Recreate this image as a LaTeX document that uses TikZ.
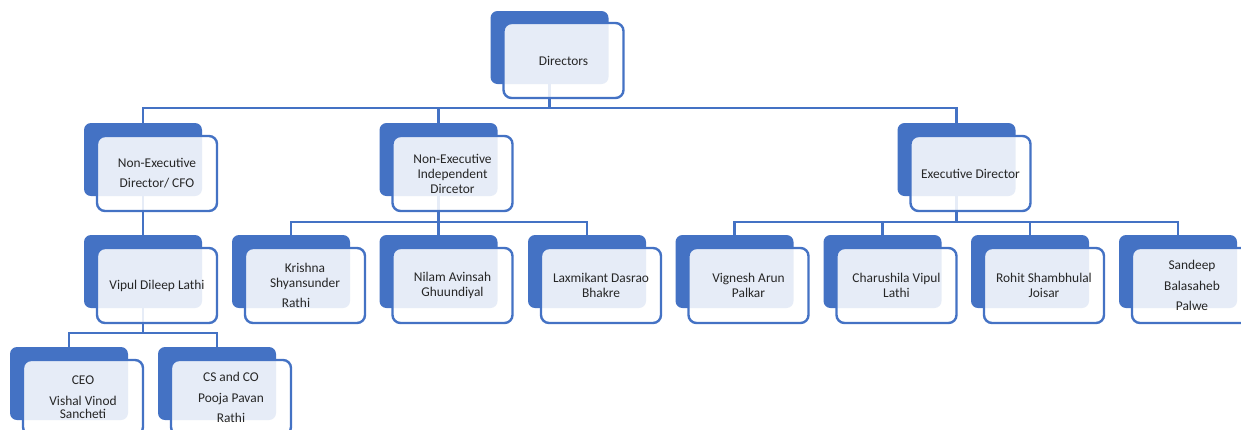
\documentclass[tikz,border=0pt]{standalone}
\usepackage{fontspec}
\setmainfont{Carlito}
\usepackage{tikz}

\definecolor{orgblue}{HTML}{4472C4}
\definecolor{orgtext}{HTML}{262626}

\tikzset{
  backbox/.style={fill=orgblue, rounded corners=7pt, minimum width=118pt,
    minimum height=73pt, inner sep=0pt},
  frontbox/.style={draw=orgblue, line width=2.4pt, fill=white, fill opacity=0.87,
    text opacity=1, rounded corners=8pt, minimum width=120pt, minimum height=75pt,
    inner sep=0pt, anchor=north west, align=center, text=orgtext,
    font=\fontsize{13.4}{15}\selectfont},
  link/.style={draw=orgblue, line width=2.5pt},
}

\begin{document}
\begin{tikzpicture}[x=1pt,y=-1pt]
\useasboundingbox (0,0) rectangle (1241,429);

% dark boxes behind
\node[backbox] (dir) at (549.5,47.5) {};

\node[backbox] (cfo) at (143,159.5) {};
\node[backbox] (ind) at (438.5,159.5) {};
\node[backbox] (exe) at (956.5,159.5) {};

\node[backbox] (vip) at (143,271.5) {};
\node[backbox] (krs) at (291,271.5) {};
\node[backbox] (nil) at (438.5,271.5) {};
\node[backbox] (lax) at (587,271.5) {};
\node[backbox] (vig) at (734.5,271.5) {};
\node[backbox] (cha) at (882.5,271.5) {};
\node[backbox] (roh) at (1030,271.5) {};
\node[backbox] (san) at (1178,271.5) {};

\node[backbox] (ceo) at (69,383.5) {};
\node[backbox] (csc) at (217,383.5) {};

% connectors
\coordinate (bus0) at (0,108);
\coordinate (bus1) at (0,222);
\coordinate (bus2) at (0,333);

\foreach \c in {cfo,ind,exe}
  \draw[link] (dir.south) -- (dir.south |- bus0) -| (\c.north);
\draw[link] (cfo.south) -- (vip.north);
\foreach \c in {krs,nil,lax}
  \draw[link] (ind.south) -- (ind.south |- bus1) -| (\c.north);
\foreach \c in {vig,cha,roh,san}
  \draw[link] (exe.south) -- (exe.south |- bus1) -| (\c.north);
\foreach \c in {ceo,csc}
  \draw[link] (vip.south) -- (vip.south |- bus2) -| (\c.north);

% light boxes with the names
\node[frontbox] (dir-t) at ([shift={(12,11)}]dir.north west) {Directors};

\node[frontbox] (cfo-t) at ([shift={(12,12)}]cfo.north west) {Non-Executive\\[5pt]Director/ CFO};
\node[frontbox] (ind-t) at ([shift={(12,12)}]ind.north west) {Non-Executive\\Independent\\Dircetor};
\node[frontbox] (exe-t) at ([shift={(12,12)}]exe.north west) {Executive Director};

\node[frontbox] (vip-t) at ([shift={(12,12)}]vip.north west) {Vipul Dileep Lathi};
\node[frontbox] (krs-t) at ([shift={(12,12)}]krs.north west) {Krishna\\Shyansunder\\[5pt]Rathi\hspace*{18pt}};
\node[frontbox] (nil-t) at ([shift={(12,12)}]nil.north west) {Nilam Avinsah\\Ghuundiyal};
\node[frontbox] (lax-t) at ([shift={(12,12)}]lax.north west) {Laxmikant Dasrao\\Bhakre};
\node[frontbox] (vig-t) at ([shift={(12,12)}]vig.north west) {Vignesh Arun\\Palkar};
\node[frontbox] (cha-t) at ([shift={(12,12)}]cha.north west) {Charushila Vipul\\Lathi};
\node[frontbox] (roh-t) at ([shift={(12,12)}]roh.north west) {Rohit Shambhulal\\Joisar};
\node[frontbox] (san-t) at ([shift={(12,12)}]san.north west) {Sandeep\\[6pt]Balasaheb\\[5pt]Palwe};

\node[frontbox] (ceo-t) at ([shift={(12,12)}]ceo.north west) {CEO\\[6pt]Vishal Vinod\\[-2pt]Sancheti};
\node[frontbox] (csc-t) at ([shift={(12,12)}]csc.north west) {CS and CO\\[6pt]Pooja Pavan\\[5pt]Rathi};

\end{tikzpicture}
\end{document}
